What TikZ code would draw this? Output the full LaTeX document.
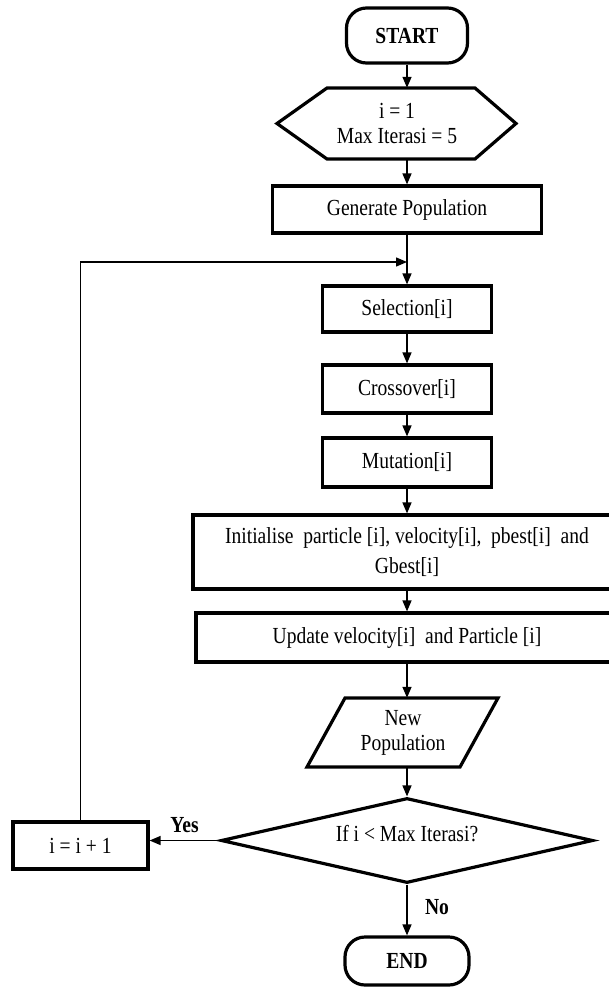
\documentclass[tikz,border=0pt]{standalone}
\usepackage{fontspec}
\setmainfont[FakeStretch=0.85]{Liberation Serif}
\usetikzlibrary{arrows.meta,shapes.geometric}
\tikzset{
  every node/.style={font=\fontsize{23}{25}\selectfont},
  box/.style={draw, line width=3.2pt, inner sep=0pt, align=center},
  term/.style={box, rounded corners=20pt, font=\fontsize{23}{25}\selectfont\bfseries},
  ghost/.style={inner sep=0pt, align=center},
  border/.style={line width=3.2pt, line join=miter},
  conn/.style={line width=1.4pt},
  arr/.style={conn, -{Triangle[length=11pt,width=9pt]}},
  lbl/.style={font=\fontsize{23}{25}\selectfont\bfseries}
}
\begin{document}
\begin{tikzpicture}[x=1pt,y=-1pt]
\path[use as bounding box] (0,0) rectangle (609,988);
\clip (0,0) rectangle (609,988);

% nodes
\node[term, minimum width=121pt, minimum height=55pt] (start) at (407,35.5) {START};
\node[ghost, minimum width=239pt, minimum height=71pt] (prep) at (397,123.5) {i = 1\\Max Iterasi = 5};
\draw[border] (277,123.5) -- (327,88) -- (475,88) -- (516,123.5) -- (475,159) -- (327,159) -- cycle;
\node[box, minimum width=269pt, minimum height=47pt] (gen) at (407,209.5) {Generate Population};
\node[box, minimum width=169pt, minimum height=46pt] (sel) at (407,309) {Selection[i]};
\node[box, minimum width=169pt, minimum height=48pt] (cross) at (407,389) {Crossover[i]};
\node[box, minimum width=169pt, minimum height=49pt] (mut) at (407,462.5) {Mutation[i]};
\node[box, minimum width=428pt, minimum height=74pt, font=\fontsize{23}{30}\selectfont] (init) at (407,552)
  {Initialise\ \ particle [i], velocity[i],\ \ pbest[i]\ \ and\\Gbest[i]};
\node[box, minimum width=422pt, minimum height=49pt] (upd) at (407,637.5) {Update velocity[i]\ \ and Particle [i]};
\node[ghost, minimum width=191pt, minimum height=69pt] (newpop) at (403,732.5) {New\\Population};
\draw[border] (345,698) -- (498,698) -- (460,767) -- (307,767) -- cycle;
\node[draw, diamond, line width=3.2pt, inner sep=0pt, aspect=4.4, minimum width=372pt, minimum height=85pt] (dec) at (407,840.5) {};
\node[ghost] at (407,834) {If i < Max Iterasi?};
\node[box, minimum width=135pt, minimum height=47pt] (inc) at (80.5,845.5) {i = i + 1};
\node[term, minimum width=124pt, minimum height=48pt] (end) at (407,961) {END};
\coordinate (join) at (407,262);

% connectors
\draw[arr] (start.south) -- (start.south |- prep.north);
\draw[arr] (gen.north |- prep.south) -- (gen.north);
\draw[arr] (gen.south) -- (sel.north);
\draw[arr] (sel.south) -- (cross.north);
\draw[arr] (cross.south) -- (mut.north);
\draw[arr] (mut.south) -- (init.north);
\draw[arr] (init.south) -- (upd.north);
\draw[arr] (upd.south) -- (upd.south |- newpop.north);
\draw[arr] (dec.north |- newpop.south) -- (dec.north);
\draw[arr] (dec.south) -- node[lbl, right, pos=0.45, xshift=14pt] {No} (end.north);
\draw[arr] (dec.west) -- node[lbl, above, yshift=4pt] {Yes} (dec.west -| inc.east);
\draw[arr] (inc.north) |- (join);
\end{tikzpicture}
\end{document}
